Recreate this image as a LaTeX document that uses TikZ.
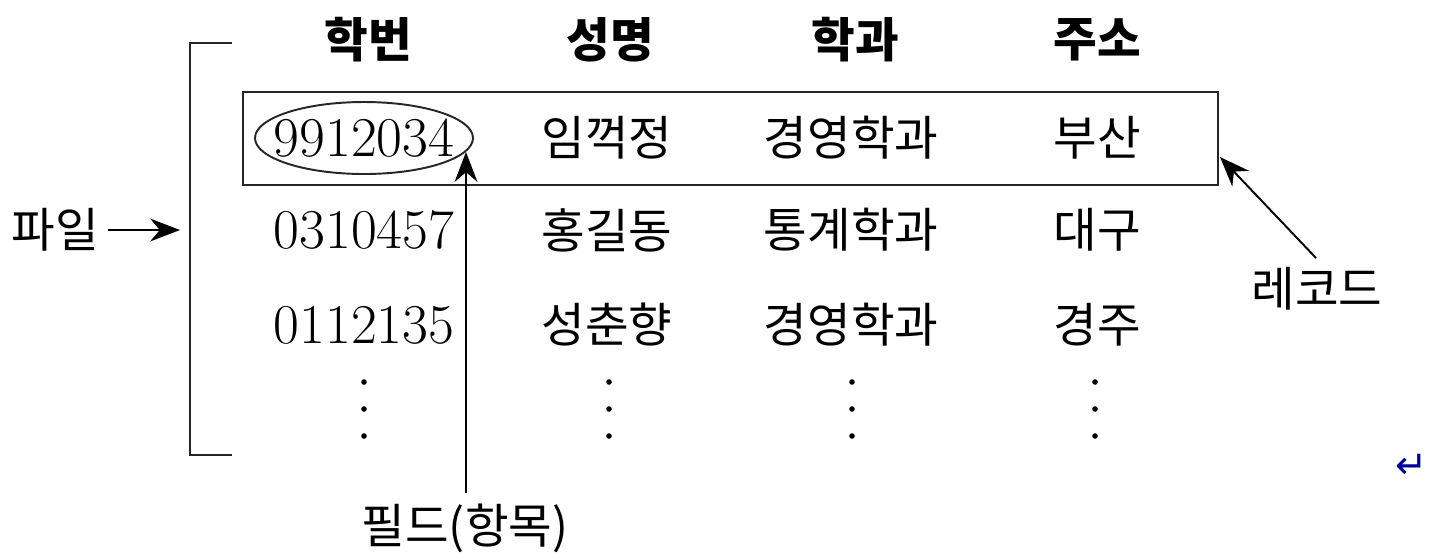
\documentclass[tikz,border=0pt]{standalone}
\usepackage{fontspec}
\newfontfamily\kr{Noto Sans CJK KR}
\newfontfamily\dv{DejaVu Sans}
\usetikzlibrary{arrows.meta}
\begin{document}
\begin{tikzpicture}[x=0.02cm,y=-0.02cm,
  hdr/.style={font=\kr\bfseries\fontsize{27}{30}\selectfont, inner sep=0pt},
  kt/.style={font=\kr\fontsize{27}{30}\selectfont, inner sep=0pt},
  num/.style={font=\fontsize{32}{36}\selectfont, inner sep=0pt},
  line/.style={line width=1.1pt, draw=black!85},
  arr/.style={line width=1.1pt, -{Stealth[length=17pt,width=13pt]}}]
\useasboundingbox (0,0) rectangle (1452,559);
% headers
\node[hdr] (h1) at (368,40) {학번};
\node[hdr] (h2) at (610,40) {성명};
\node[hdr] (h3) at (855,40) {학과};
\node[hdr] (h4) at (1097,40) {주소};
% record box
\draw[line] (243,92) rectangle (1218,185);
\coordinate (recR) at (1220,157);
% row 1
\node[num] (r1a) at (364,138) {9912034};
\node[kt] (r1b) at (607,138) {임꺽정};
\node[kt] (r1c) at (851,138) {경영학과};
\node[kt] (r1d) at (1097,138) {부산};
\draw[line] (364,138) ellipse [x radius=109, y radius=36];
% row 2
\node[num] (r2a) at (364,230) {0310457};
\node[kt] (r2b) at (607,230) {홍길동};
\node[kt] (r2c) at (851,230) {통계학과};
\node[kt] (r2d) at (1097,230) {대구};
% row 3
\node[num] (r3a) at (364,325) {0112135};
\node[kt] (r3b) at (607,325) {성춘향};
\node[kt] (r3c) at (851,325) {경영학과};
\node[kt] (r3d) at (1097,325) {경주};
% dots
\foreach \x in {364,609,852,1095}{
  \foreach \y in {382,409,436}{
    \fill (\x,\y) circle (2.8);
  }
}
% bracket
\draw[line] (232,43) -- (190,43) -- (190,455) -- (232,455);
% file label
\node[kt] (file) at (55,230) {파일};
\coordinate (fileT) at (180,230);
\draw[arr] (108,230) -- (fileT);
% field label
\node[kt] (field) at (465,528) {필드(항목)};
\coordinate (fieldT) at (466,152);
\draw[arr] (field.north -| fieldT) ++(0,-10) -- (fieldT);
% record label
\node[kt] (rec) at (1317,289) {레코드};
\draw[arr] (1316,258) -- (recR);
% return mark
\node[font=\dv\fontsize{22}{24}\selectfont, text=blue!60!black, inner sep=0pt] (ret) at (1412,466) {↵};
\end{tikzpicture}
\end{document}
